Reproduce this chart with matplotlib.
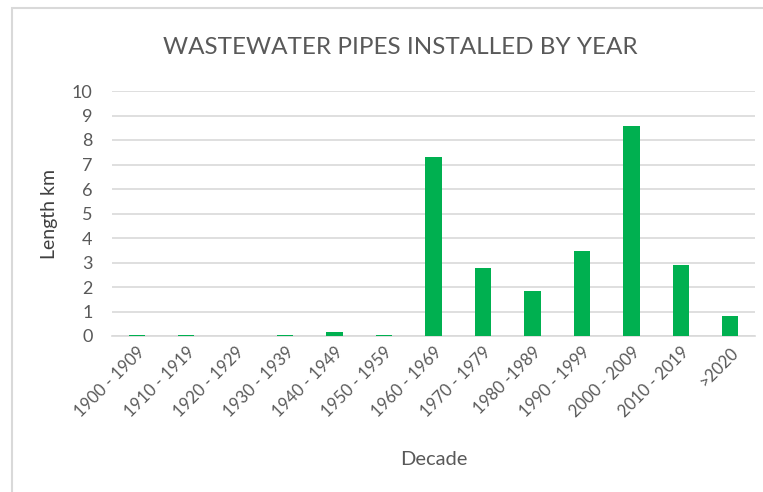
import matplotlib.pyplot as plt
from matplotlib.patches import Rectangle

# --- Datos ---
decadas = ['1900 - 1909', '1910 - 1919', '1920 - 1929', '1930 - 1939', '1940 - 1949',
           '1950 - 1959', '1960 - 1969', '1970 - 1979', '1980 -1989', '1990 - 1999',
           '2000 - 2009', '2010 - 2019', '>2020']
longitud_km = [0.05, 0.05, 0.0, 0.05, 0.15, 0.05, 7.3, 2.78, 1.83, 3.48, 8.58, 2.9, 0.82]
ticks_y = list(range(0, 11))

plt.rcParams['font.family'] = ['Lato', 'DejaVu Sans']

fig = plt.figure(figsize=(7.63, 4.92), dpi=100)
ax = fig.add_axes([112 / 763, 1 - 336 / 492, (755 - 112) / 763, (336 - 91) / 492])

ax.bar(range(len(decadas)), longitud_km, width=0.33, color='#00B050', zorder=3)

ax.set_xlim(-0.5, len(decadas) - 0.5)
ax.set_ylim(0, 10)
ax.set_yticks(ticks_y)
ax.grid(axis='y', color='#D9D9D9', linewidth=1.2, zorder=0)
ax.set_axisbelow(True)
for lado in ['top', 'right', 'left']:
    ax.spines[lado].set_visible(False)
ax.spines['bottom'].set_color('#D9D9D9')
ax.spines['bottom'].set_linewidth(1.2)
ax.spines['bottom'].set_zorder(1)
ax.tick_params(length=0, colors='#595959', labelsize=12)
ax.tick_params(axis='y', pad=14, labelsize=13)
ax.tick_params(axis='x', pad=6)

ax.set_xticks(range(len(decadas)))
ax.set_xticklabels(decadas, rotation=45, ha='right', rotation_mode='anchor')

ax.set_ylabel('Length km', fontsize=14, color='#404040', labelpad=10)
ax.set_xlabel('Decade', fontsize=14.5, color='#595959', labelpad=22)
fig.text(0.525, 1 - 47 / 492, 'WASTEWATER PIPES INSTALLED BY YEAR', ha='center', va='center',
         fontsize=17.5, color='#595959')

# Borde del área del gráfico
fig.patches.append(Rectangle((12 / 763, -0.1), 1.2, 1 - 8 / 492 + 0.1, transform=fig.transFigure,
                             fill=False, edgecolor='#D9D9D9', linewidth=1.5))

fig.savefig('out.png', dpi=100)
